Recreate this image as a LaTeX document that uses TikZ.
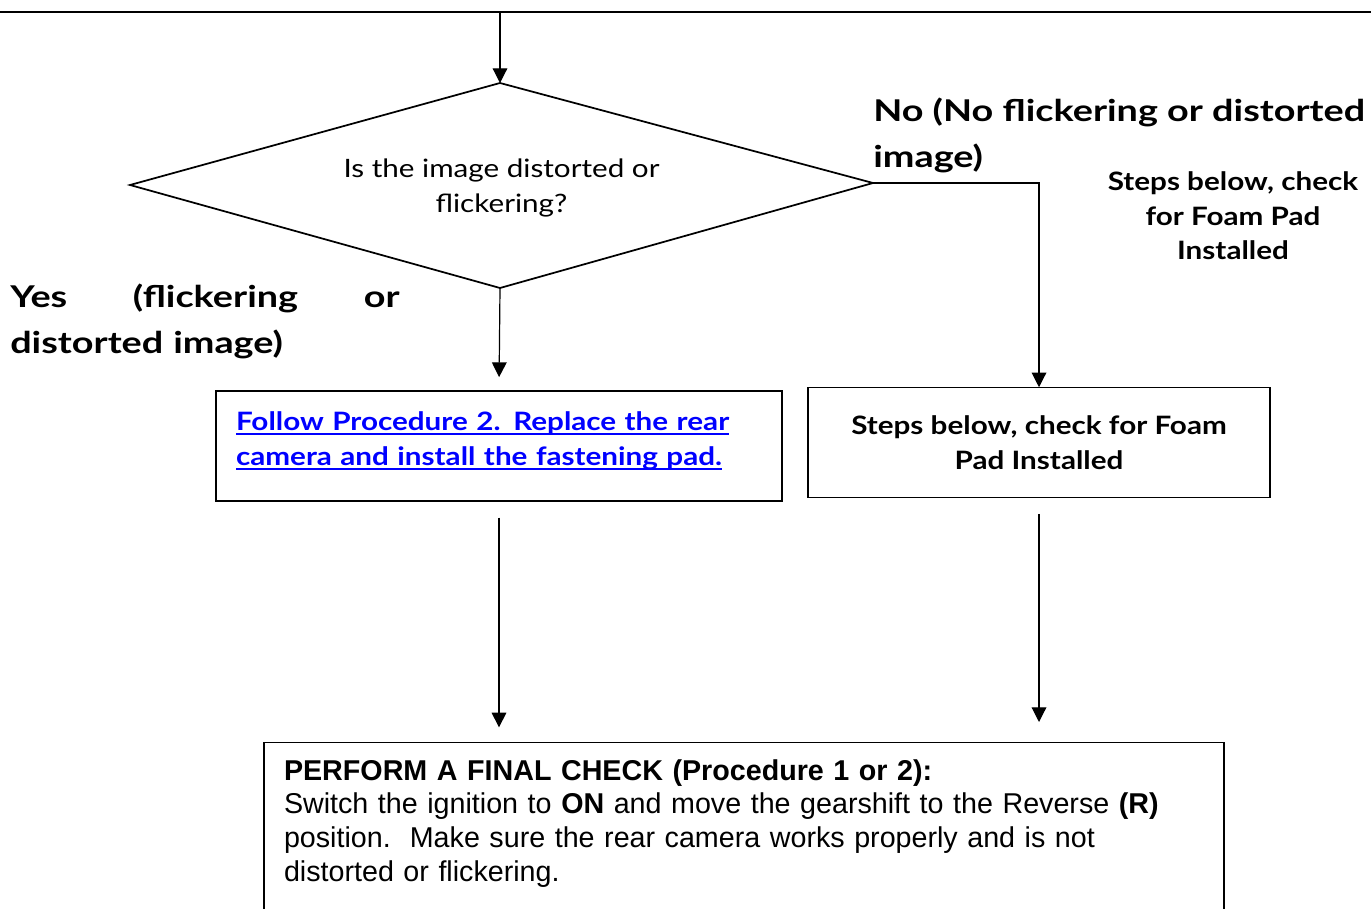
\documentclass[tikz,border=0pt]{standalone}
\usepackage{fontspec}
\setmainfont[FakeStretch=1.17]{Lato}
\newfontfamily\lblfont[FakeStretch=1.26]{Lato}
\newfontfamily\arialfont{Liberation Sans}
\usetikzlibrary{shapes,arrows.meta}

\definecolor{linkblue}{RGB}{0,0,255}
\newcommand\linkul[1]{\leavevmode\setbox0\hbox{#1}\rlap{\vrule height -2.2pt depth 3.6pt width \wd0}\box0}

\tikzset{
  flow/.style={-{Triangle[width=11pt,length=11pt]}, line width=0.9pt},
  procbox/.style={draw, line width=0.9pt, inner sep=0pt},
  bigtxt/.style={font=\lblfont\fontsize{22.5}{34}\selectfont\bfseries, inner sep=0pt}
}

\begin{document}
\begin{tikzpicture}[x=0.75pt, y=-0.75pt]
\useasboundingbox (0,0) rectangle (1371,909);
\clip (0,0) rectangle (1371,909);
% top rule and entry
\draw[line width=0.9pt] (0,12) -- (1371,12);
\coordinate (entry) at (500,12);
% decision
\coordinate (dia-n) at (500,83);
\coordinate (dia-e) at (873,183);
\coordinate (dia-s) at (500,288);
\coordinate (dia-w) at (130,185);
\draw[line width=1.3pt, line join=miter] (dia-n) -- (dia-e) -- (dia-s) -- (dia-w) -- cycle;
\node[align=center, inner sep=0pt, font=\fontsize{19}{26}\selectfont] (dia) at (501.5,188)
      {Is the image distorted or\\flickering?};
\draw[flow] (entry) -- (dia-n);
% branch labels
\node[bigtxt, anchor=north west, align=left] (nolbl) at (873,98)
      {No (No flickering or distorted\\image)};
\node[font=\fontsize{19}{26}\selectfont\bfseries, align=center, inner sep=0pt] (stepslbl) at (1233,216)
      {Steps below, check\\for Foam Pad\\Installed};
\node[bigtxt, anchor=north west, text width=292pt, align=left] (yeslbl) at (10,284)
      {Yes\hfill(flickering\hfill or\\distorted image)};
% action boxes
\node[procbox, minimum width=424.5pt, minimum height=82.5pt, text width=394.5pt, align=left,
      font=\fontsize{19}{26}\selectfont\bfseries, text=linkblue] (proc2) at (499,446)
      {\linkul{Follow Procedure 2. Replace the rear}\\\linkul{camera and install the fastening pad.}\par\vspace{8pt}};
\node[procbox, minimum width=346.5pt, minimum height=82pt, align=center,
      font=\fontsize{19}{26}\selectfont\bfseries] (foam) at (1039,442.5)
      {Steps below, check for Foam\\Pad Installed};
\node[procbox, anchor=north, minimum width=720pt, text width=690pt, align=left,
      inner xsep=15pt, inner ysep=12.5pt, font=\arialfont\fontsize{21.5}{25.3}\selectfont] (final) at (744,742)
      {\textbf{PERFORM A FINAL CHECK (Procedure 1 or 2):}\\
       Switch the ignition to \textbf{ON} and move the gearshift to the Reverse \textbf{(R)}\\
       position.\ \ Make sure the rear camera works properly and is not\\
       distorted or flickering.\\[40pt]\mbox{}};
% connectors
\draw[flow] (dia-e) -| (foam.north);
\draw[flow, shorten >=10pt] (dia-s) -- (proc2.north);
\draw[flow, shorten <=12pt, shorten >=11pt] (proc2.south) -- (proc2.south |- final.north);
\draw[flow, shorten <=12pt, shorten >=15pt] (foam.south) -- (foam.south |- final.north);
\end{tikzpicture}
\end{document}
